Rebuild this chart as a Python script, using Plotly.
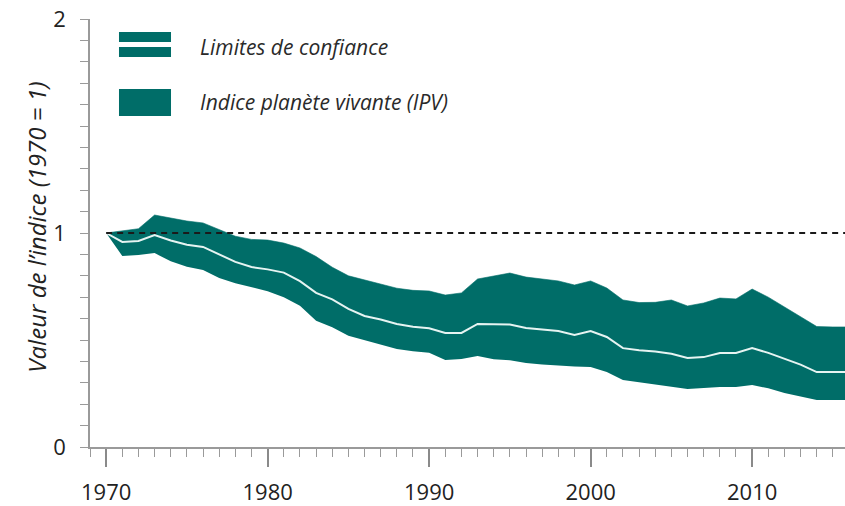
import plotly.graph_objects as go

years = list(range(1970, 2017))
upper = [1.00, 1.01, 1.02, 1.084, 1.07, 1.056, 1.047, 1.015, 0.985, 0.97,
         0.967, 0.953, 0.93, 0.89, 0.84, 0.80, 0.78, 0.76, 0.742, 0.732,
         0.729, 0.71, 0.72, 0.785, 0.80, 0.813, 0.794, 0.785, 0.776, 0.757,
         0.776, 0.743, 0.687, 0.675, 0.676, 0.687, 0.659, 0.673, 0.696, 0.692,
         0.738, 0.70, 0.654, 0.61, 0.563, 0.561, 0.561]
center = [1.00, 0.958, 0.963, 0.99, 0.965, 0.945, 0.935, 0.90, 0.865, 0.841,
          0.83, 0.815, 0.775, 0.72, 0.69, 0.645, 0.612, 0.596, 0.575, 0.562,
          0.555, 0.533, 0.533, 0.575, 0.575, 0.572, 0.556, 0.55, 0.542, 0.523,
          0.542, 0.514, 0.462, 0.452, 0.446, 0.436, 0.416, 0.42, 0.439, 0.439,
          0.462, 0.44, 0.411, 0.385, 0.35, 0.35, 0.35]
lower = [1.00, 0.893, 0.897, 0.906, 0.868, 0.842, 0.827, 0.79, 0.765, 0.748,
         0.728, 0.70, 0.66, 0.59, 0.56, 0.52, 0.50, 0.48, 0.458, 0.447,
         0.44, 0.407, 0.411, 0.425, 0.41, 0.405, 0.393, 0.385, 0.379, 0.376,
         0.374, 0.35, 0.313, 0.303, 0.292, 0.283, 0.271, 0.276, 0.28, 0.28,
         0.29, 0.274, 0.252, 0.236, 0.22, 0.22, 0.22]

legend_labels = ["Limites de confiance", "Indice planète vivante (IPV)"]
y_title = "Valeur de l’indice (1970 = 1)"

TEAL = "#006d68"
FONT = "Open Sans"

fig = go.Figure()
fig.add_trace(go.Scatter(x=years, y=lower, mode="lines", line=dict(width=0, color=TEAL),
                         showlegend=False, hoverinfo="skip"))
fig.add_trace(go.Scatter(x=years, y=upper, mode="lines", line=dict(width=0.6, color=TEAL),
                         fill="tonexty", fillcolor=TEAL, showlegend=False))
fig.add_trace(go.Scatter(x=years, y=center, mode="lines", line=dict(width=2, color="#e6f4f2"),
                         showlegend=False))

# dashed reference line at 1
fig.add_shape(type="line", xref="x", yref="y", x0=1970, x1=2015.75, y0=1, y1=1,
              line=dict(color="#1a1a1a", width=2, dash="6px,5px"))

# legend symbols
fig.add_shape(type="rect", xref="paper", yref="paper", x0=0.0384, x1=0.1073, y0=0.9463, y1=0.9696,
              fillcolor=TEAL, line=dict(width=0))
fig.add_shape(type="rect", xref="paper", yref="paper", x0=0.0384, x1=0.1073, y0=0.9112, y1=0.9346,
              fillcolor=TEAL, line=dict(width=0))
fig.add_shape(type="rect", xref="paper", yref="paper", x0=0.0384, x1=0.1073, y0=0.7734, y1=0.8364,
              fillcolor=TEAL, line=dict(width=0))
fig.add_annotation(xref="paper", yref="paper", x=0.143, y=0.9346, text="<i>%s</i>" % legend_labels[0],
                   showarrow=False, xanchor="left", yanchor="middle",
                   font=dict(family=FONT, size=21, color="#2a2a2a"))
fig.add_annotation(xref="paper", yref="paper", x=0.143, y=0.806, text="<i>%s</i>" % legend_labels[1],
                   showarrow=False, xanchor="left", yanchor="middle",
                   font=dict(family=FONT, size=21, color="#2a2a2a"))

# y axis title
fig.add_annotation(xref="paper", yref="paper", x=-0.072, y=0.514, text="<i>%s</i>" % y_title,
                   showarrow=False, textangle=-90, xanchor="center", yanchor="middle",
                   font=dict(family=FONT, size=24, color="#222222"))

fig.update_layout(
    width=845, height=506,
    margin=dict(l=90, r=0, t=19, b=59, autoexpand=False),
    plot_bgcolor="white", paper_bgcolor="white",
    font=dict(family=FONT, size=22, color="#222222"),
    showlegend=False,
)
fig.update_xaxes(range=[1969.0, 2015.75], showgrid=False, zeroline=False, automargin=False,
                 showline=True, linecolor="#9a9a9a", linewidth=1.5,
                 tickmode="linear", tick0=1970, dtick=10, ticks="outside", ticklen=18,
                 tickcolor="#8a8a8a", tickwidth=1.5, ticklabelstandoff=7,
                 minor=dict(dtick=1, tick0=1970, ticks="outside", ticklen=8,
                            tickcolor="#9a9a9a", tickwidth=1.2),
                 tickfont=dict(family=FONT, size=22, color="#222222"))
fig.update_yaxes(range=[0, 2], showgrid=False, zeroline=False, automargin=False,
                 showline=True, linecolor="#9a9a9a", linewidth=1.5,
                 tickmode="linear", tick0=0, dtick=1, ticks="outside", ticklen=8,
                 tickcolor="#9a9a9a", tickwidth=1.2, ticklabelstandoff=10,
                 minor=dict(dtick=0.1, ticks="outside", ticklen=8,
                            tickcolor="#9a9a9a", tickwidth=1.2),
                 tickfont=dict(family=FONT, size=22, color="#222222"))

fig.write_html("out.html", config={"displayModeBar": False},
               post_script="document.body.style.margin='0';document.body.style.overflow='hidden';")
